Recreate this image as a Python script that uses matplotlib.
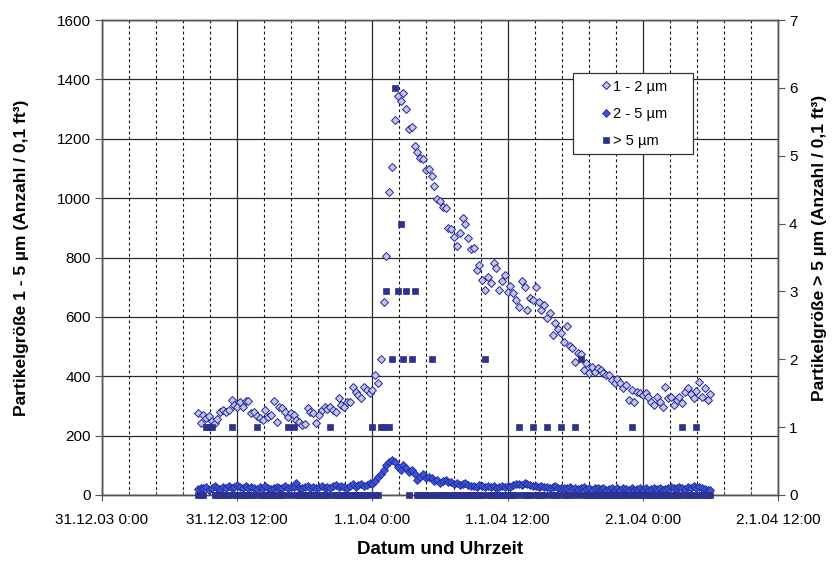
import numpy as np
import pandas as pd
import matplotlib
matplotlib.use("Agg")
import matplotlib.pyplot as plt
from matplotlib.ticker import MultipleLocator, FixedLocator, FixedFormatter

plt.rcParams['font.family'] = ['Liberation Sans', 'DejaVu Sans']

# ---------------- data (15-min samples starting 31.12.03 08:30) ----------------
start_time = "2003-12-31 08:30"
sample_step = "15min"

size_1_2 = [
    276, 242,
    270, 259, 266, 248,
    242, 255, 280, 286,
    280, 286, 320, 303,
    295, 313, 296, 316,
    316, 276, 280, 265,
    259, 252, 286, 262,
    270, 317, 246, 296,
    293, 280, 263, 276,
    270, 253, 246, 236,
    240, 293, 280, 276,
    242, 270, 286, 296,
    290, 296, 286, 280,
    326, 303, 296, 313,
    313, 364, 347, 337,
    326, 364, 354, 344,
    354, 404, 377, 458,
    650, 805, 1020, 1105,
    1263, 1344, 1327, 1354,
    1300, 1233, 1240, 1176,
    1155, 1135, 1132, 1095,
    1098, 1074, 1040, 997,
    990, 970, 967, 900,
    896, 869, 839, 882,
    933, 913, 866, 829,
    832, 758, 775, 724,
    690, 734, 714, 780,
    765, 690, 720, 740,
    684, 704, 680, 657,
    633, 720, 700, 623,
    663, 657, 700, 650,
    623, 640, 596, 613,
    539, 580, 560, 546,
    515, 570, 502, 495,
    448, 480, 475, 421,
    444, 411, 431, 414,
    428, 421, 411, 404,
    404, 387, 377, 390,
    377, 360, 370, 320,
    354, 313, 347, 344,
    337, 344, 330, 313,
    303, 330, 313, 296,
    364, 327, 330, 303,
    320, 330, 310, 347,
    360, 340, 327, 350,
    380, 330, 360, 320,
    340,
]

size_2_5 = [
    20, 25,
    22, 28, 18, 25,
    30, 24, 20, 27,
    25, 32, 22, 28,
    35, 26, 24, 30,
    22, 28, 25, 20,
    26, 22, 30, 24,
    20, 25, 28, 22,
    24, 30, 22, 26,
    28, 40, 25, 22,
    26, 30, 24, 28,
    22, 27, 32, 25,
    28, 24, 30, 35,
    26, 32, 28, 24,
    30, 36, 28, 33,
    38, 30, 35, 40,
    38, 48, 60, 72,
    84, 100, 112, 118,
    111, 95, 84, 101,
    90, 77, 84, 70,
    50, 60, 72, 57,
    62, 57, 48, 52,
    40, 46, 52, 44,
    44, 38, 42, 34,
    36, 40, 34, 30,
    32, 28, 34, 30,
    28, 32, 26, 30,
    24, 28, 32, 26,
    30, 28, 34, 36,
    38, 34, 40, 36,
    34, 30, 32, 28,
    30, 26, 28, 24,
    26, 30, 24, 22,
    25, 22, 28, 20,
    24, 20, 22, 26,
    20, 24, 18, 22,
    22, 20, 24, 18,
    20, 22, 18, 24,
    18, 22, 20, 16,
    22, 18, 20, 24,
    20, 22, 18, 20,
    24, 20, 22, 18,
    20, 24, 26, 22,
    22, 28, 24, 20,
    26, 22, 30, 24,
    28, 24, 20, 18,
    16,
]

size_gt5 = [
    0, 0,
    0, 1, 1, 1,
    0, 0, 0, 0,
    0, 0, 1, 0,
    0, 0, 0, 0,
    0, 0, 0, 1,
    0, 0, 0, 0,
    0, 0, 0, 0,
    0, 0, 1, 0,
    1, 0, 0, 0,
    0, 0, 0, 0,
    0, 0, 0, 0,
    0, 1, 0, 0,
    0, 0, 0, 0,
    0, 0, 0, 0,
    0, 0, 0, 0,
    1, 0, 0, 1,
    1, 3, 1, 2,
    6, 3, 4, 2,
    3, 0, 2, 3,
    0, 0, 0, 0,
    0, 2, 0, 0,
    0, 0, 0, 0,
    0, 0, 0, 0,
    0, 0, 0, 0,
    0, 0, 0, 0,
    2, 0, 0, 0,
    0, 0, 0, 0,
    0, 0, 0, 0,
    1, 0, 0, 0,
    0, 1, 0, 0,
    0, 0, 1, 0,
    0, 0, 0, 1,
    0, 0, 0, 0,
    1, 0, 2, 0,
    0, 0, 0, 0,
    0, 0, 0, 0,
    0, 0, 0, 0,
    0, 0, 0, 0,
    1, 0, 0, 0,
    0, 0, 0, 0,
    0, 0, 0, 0,
    0, 0, 0, 0,
    0, 0, 1, 0,
    0, 0, 0, 1,
    0, 0, 0, 0,
    0,
]

series_labels = ["1 - 2 µm", "2 - 5 µm", "> 5 µm"]
x_start, x_end = "2003-12-31 00:00", "2004-01-02 12:00"
x_tick_times = ["2003-12-31 00:00", "2003-12-31 12:00", "2004-01-01 00:00",
                "2004-01-01 12:00", "2004-01-02 00:00", "2004-01-02 12:00"]
x_tick_labels = ["31.12.03 0:00", "31.12.03 12:00", "1.1.04 0:00",
                 "1.1.04 12:00", "2.1.04 0:00", "2.1.04 12:00"]
left_ticks = [0, 200, 400, 600, 800, 1000, 1200, 1400, 1600]
right_ticks = [0, 1, 2, 3, 4, 5, 6, 7]

times = pd.date_range(start_time, periods=len(size_1_2), freq=sample_step)

# ---------------- figure ----------------
W, H = 832, 561
fig = plt.figure(figsize=(W / 100, H / 100), dpi=100)
ax = fig.add_axes([102 / W, 1 - 495 / H, 676 / W, 475 / H])
ax2 = ax.twinx()

axis_col = "#555555"
grid_col = "#2a2a2a"

h1, = ax.plot(times, size_1_2, ls="none", marker="D", ms=4.1, mfc="#c3c3f0",
              mec="#23298a", mew=0.7, clip_on=False, zorder=3)
h2, = ax.plot(times, size_2_5, ls="none", marker="D", ms=4.1, mfc="#3d52d4",
              mec="#1f2b9a", mew=0.6, clip_on=False, zorder=4)
h3, = ax2.plot(times, size_gt5, ls="none", marker="s", ms=4.0, mfc="#2d3190",
               mec="#2d3190", mew=0.5, clip_on=False, zorder=5)

ax.set_xlim(pd.Timestamp(x_start), pd.Timestamp(x_end))
ax.set_ylim(0, 1600)
ax2.set_ylim(0, 7)

tick_pos = [matplotlib.dates.date2num(pd.Timestamp(t)) for t in x_tick_times]
ax.xaxis.set_major_locator(FixedLocator(tick_pos))
ax.xaxis.set_major_formatter(FixedFormatter(x_tick_labels))
ax.xaxis.set_minor_locator(MultipleLocator(0.1))
ax.set_yticks(left_ticks)
ax2.set_yticks(right_ticks)

ax.set_axisbelow(True)
ax.grid(which="major", axis="both", color=grid_col, lw=0.9)
ax.grid(which="minor", axis="x", color="#111111", lw=0.8, ls=(0, (2.5, 2.5)))

for a in (ax, ax2):
    for s in a.spines.values():
        s.set_color(axis_col)
        s.set_linewidth(1.0)

ax.tick_params(axis="y", which="major", direction="out", length=5, color=axis_col,
               labelsize=11, pad=3)
ax2.tick_params(axis="y", which="major", direction="out", length=5, color=axis_col,
                labelsize=11, pad=3)
ax.tick_params(axis="x", which="major", direction="inout", length=8, color=axis_col,
               labelsize=11, pad=9)
ax.tick_params(axis="x", which="minor", direction="in", length=3, color=axis_col)

ax.set_xlabel("Datum und Uhrzeit", fontsize=13.5, fontweight="bold")
ax.xaxis.set_label_coords(0.5, (495 - 541) / 475)
ax.set_ylabel("Partikelgröße 1 - 5 µm (Anzahl / 0,1 ft³)", fontsize=12.5,
              fontweight="bold")
ax.yaxis.set_label_coords((29 - 102) / 676, 0.5)
ax2.set_ylabel("Partikelgröße > 5 µm (Anzahl / 0,1 ft³)", fontsize=12.5,
               fontweight="bold")
ax2.yaxis.set_label_coords((812 - 102) / 676, 0.52)

leg = ax2.legend([h1, h2, h3], series_labels, loc="upper left",
                 bbox_to_anchor=(471 / 676, 0.3, 120 / 676, (495 - 73) / 475 - 0.3),
                 mode="expand", borderaxespad=0, fontsize=10.5, frameon=True,
                 fancybox=False, edgecolor="#333333", framealpha=1,
                 handlelength=3.6, handletextpad=-1.3, borderpad=0.45,
                 labelspacing=0.9, numpoints=1)
leg.get_frame().set_linewidth(0.9)

fig.savefig("out.png", dpi=100)
